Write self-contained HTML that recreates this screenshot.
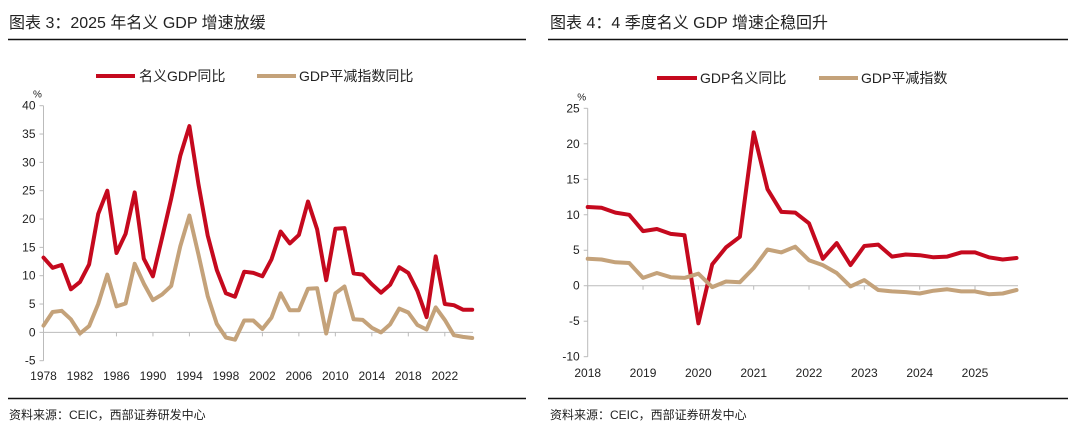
<!DOCTYPE html>
<html><head><meta charset="utf-8">
<style>
html,body{margin:0;padding:0;background:#fff;width:1080px;height:438px;overflow:hidden}
svg{display:block;font-family:"Liberation Sans","Noto Sans CJK SC",sans-serif}
</style></head>
<body>
<svg id="s" width="1080" height="438" viewBox="0 0 1080 438">
  <text x="9" y="28" font-size="16" fill="#222">图表 3：2025 年名义 GDP 增速放缓</text>
  <line x1="8" y1="39.5" x2="526" y2="39.5" stroke="#111" stroke-width="1.5"/>
  <line x1="8" y1="398.5" x2="526" y2="398.5" stroke="#111" stroke-width="1.5"/>
  <text x="9" y="419" font-size="12" fill="#222">资料来源：CEIC，西部证券研发中心</text>

  <text x="550" y="28" font-size="16" fill="#222">图表 4：4 季度名义 GDP 增速企稳回升</text>
  <line x1="548" y1="39.5" x2="1068" y2="39.5" stroke="#111" stroke-width="1.5"/>
  <line x1="548" y1="398.5" x2="1068" y2="398.5" stroke="#111" stroke-width="1.5"/>
  <text x="550" y="419" font-size="12" fill="#222">资料来源：CEIC，西部证券研发中心</text>

  <g>
    <line x1="96" y1="76" x2="135" y2="76" stroke="#c5091e" stroke-width="4"/>
    <text x="139" y="81" font-size="14" fill="#222">名义GDP同比</text>
    <line x1="257" y1="76" x2="296" y2="76" stroke="#c4a27a" stroke-width="4"/>
    <text x="299" y="81" font-size="14" fill="#222">GDP平减指数同比</text>
  </g>
  <g>
    <line x1="657" y1="78" x2="697" y2="78" stroke="#c5091e" stroke-width="4"/>
    <text x="700" y="83" font-size="14" fill="#222">GDP名义同比</text>
    <line x1="819" y1="78" x2="858" y2="78" stroke="#c4a27a" stroke-width="4"/>
    <text x="861" y="83" font-size="14" fill="#222">GDP平减指数</text>
  </g>
</svg>
<script>
const annualYears = Array.from({length:48},(_,i)=>1978+i);
const annualNominal = [13.2,11.4,11.9,7.6,8.9,12.0,20.9,25.0,14.0,17.4,24.7,13.0,9.9,16.7,23.6,31.2,36.4,26.1,17.1,11.0,6.9,6.3,10.7,10.5,9.9,12.9,17.8,15.7,17.2,23.1,18.2,9.2,18.3,18.4,10.4,10.2,8.5,7.0,8.4,11.5,10.5,7.3,2.7,13.4,5.0,4.8,4.0,4.0];
const annualDeflator = [1.2,3.6,3.8,2.3,-0.2,1.1,5.0,10.2,4.6,5.1,12.1,8.6,5.7,6.7,8.2,15.2,20.6,13.7,6.4,1.5,-0.9,-1.3,2.1,2.1,0.6,2.6,6.9,3.9,3.9,7.7,7.8,-0.2,6.9,8.1,2.3,2.2,0.8,0.0,1.4,4.2,3.5,1.3,0.5,4.4,2.2,-0.5,-0.8,-1.0];
const annualYTicks = [-5,0,5,10,15,20,25,30,35,40];
const annualXTicks = [1978,1982,1986,1990,1994,1998,2002,2006,2010,2014,2018,2022];

const quarterIndex = Array.from({length:32},(_,i)=>i);
const quarterNominal = [11.1,11.0,10.3,10.0,7.7,8.0,7.3,7.1,-5.3,3.0,5.4,6.9,21.6,13.6,10.4,10.3,8.8,3.8,6.0,2.9,5.6,5.8,4.1,4.4,4.3,4.0,4.1,4.7,4.7,4.0,3.7,3.9];
const quarterDeflator = [3.8,3.7,3.3,3.2,1.1,1.8,1.2,1.1,1.7,-0.2,0.6,0.5,2.5,5.1,4.7,5.5,3.6,2.9,1.8,-0.1,0.8,-0.6,-0.8,-0.9,-1.1,-0.7,-0.5,-0.8,-0.8,-1.2,-1.1,-0.6];
const quarterYTicks = [-10,-5,0,5,10,15,20,25];
const quarterXTicks = ['2018','2019','2020','2021','2022','2023','2024','2025'];

const NS='http://www.w3.org/2000/svg';
const svg=document.getElementById('s');
function mk(tag,attrs,parent){const e=document.createElementNS(NS,tag);for(const k in attrs)e.setAttribute(k,attrs[k]);(parent||svg).appendChild(e);return e;}

function drawChart(o){
  const g=mk('g',{});
  
  
  const sx=v=>o.x0+(v-o.xmin)/(o.xmax-o.xmin)*(o.x1-o.x0);
  const sy=v=>o.y0+(o.ymax-v)/(o.ymax-o.ymin)*(o.y1-o.y0);
  const ya=mk('line',{x1:o.x0,y1:sy(o.ymax),x2:o.x0,y2:sy(o.ymin),stroke:'#bbb','stroke-width':1},g);
  
  
  o.yTicks.forEach(t=>{
    const tk=mk('line',{x1:o.x0-4,y1:sy(t),x2:o.x0,y2:sy(t),stroke:'#bbb'},g);
    
    
    const tx=mk('text',{x:o.x0-8,y:sy(t)+4,'font-size':12,'text-anchor':'end',fill:'#222'},g);
    tx.textContent=t;
    
    
  });
  const u=mk('text',{x:o.x0-6,y:sy(o.ymax)-8,'font-size':10,'text-anchor':'middle',fill:'#222'},g);
  u.textContent='%';
  
  
  const xa=mk('line',{x1:o.x0,y1:sy(0),x2:o.xEnd,y2:sy(0),stroke:'#bbb'},g);
  
  
  o.xTicks.forEach((t,i)=>{
    const xv=o.xTickVal(t,i);
    const tk=mk('line',{x1:sx(xv),y1:sy(0),x2:sx(xv),y2:sy(0)+4,stroke:'#bbb'},g);
    
    
    const tx=mk('text',{x:sx(xv),y:o.xLabelY,'font-size':12,'text-anchor':'middle',fill:'#222'},g);
    tx.textContent=t;
    
    
  });
  o.series.forEach(s=>{
    const d=s.vals.map((v,i)=>(i?'L':'M')+sx(o.xs[i]).toFixed(1)+','+sy(v).toFixed(1)).join(' ');
    const p=mk('path',{d:d,fill:'none',stroke:s.color,'stroke-width':4,'stroke-linejoin':'round','stroke-linecap':'round'},g);
    
    
  });
}

drawChart({name:'annual-chart',x0:43.5,x1:444.8,xmin:1978,xmax:2022,xEnd:473,y0:105.7,y1:360.7,ymin:-5,ymax:40,
  yTicks:annualYTicks,xTicks:annualXTicks,xTickVal:t=>t,xLabelY:380,xs:annualYears,
  series:[{name:'line-nominal-gdp',vals:annualNominal,color:'#c5091e'},{name:'line-gdp-deflator',vals:annualDeflator,color:'#c4a27a'}]});

drawChart({name:'quarterly-chart',x0:587.7,x1:975,xmin:0,xmax:28,xEnd:1018,y0:108.3,y1:356.7,ymin:-10,ymax:25,
  yTicks:quarterYTicks,xTicks:quarterXTicks,xTickVal:(t,i)=>i*4,xLabelY:377,xs:quarterIndex,
  series:[{name:'line-q-nominal-gdp',vals:quarterNominal,color:'#c5091e'},{name:'line-q-gdp-deflator',vals:quarterDeflator,color:'#c4a27a'}]});
</script>
</body></html>
